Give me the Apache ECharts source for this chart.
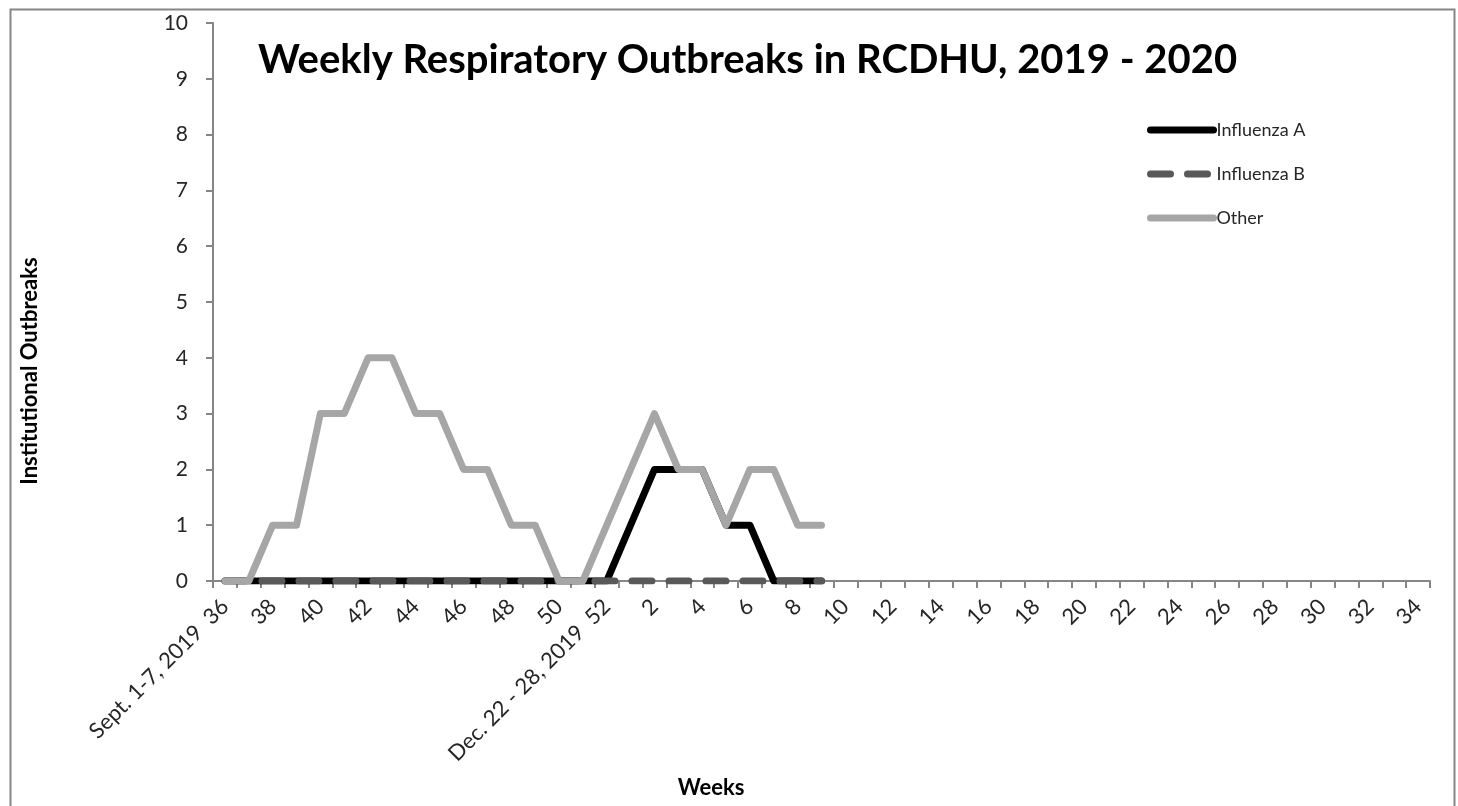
<!DOCTYPE html>
<html>
<head>
<meta charset="utf-8">
<title>Weekly Respiratory Outbreaks</title>
<script src="https://cdn.jsdelivr.net/npm/echarts@6/dist/echarts.min.js"></script>
<style>
  html, body { margin: 0; padding: 0; background: #fff; }
  #b { width: 1458px; height: 806px; }
</style>
</head>
<body>
<div id="b"></div>
<script>
// weeks of the season: 36..52 of 2019, then 1..34 of 2020
var weeks = ['Sept. 1-7, 2019  36','37','38','39','40','41','42','43','44','45','46','47','48','49','50','51','Dec. 22 - 28, 2019  52',
  '1','2','3','4','5','6','7','8','9','10','11','12','13','14','15','16','17','18','19','20',
  '21','22','23','24','25','26','27','28','29','30','31','32','33','34'];

// reported values run from week 36 to week 9
var influenzaA = [0,0,0,0,0,0,0,0,0,0,0,0,0,0,0,0,0, 1,2,2,2,1,1,0,0,0];
var influenzaB = [0,0,0,0,0,0,0,0,0,0,0,0,0,0,0,0,0, 0,0,0,0,0,0,0,0,0];
var other      = [0,0,1,1,3,3,4,4,3,3,2,2,1,1,0,0,1, 2,3,2,2,1,2,2,1,1];

var seriesNames = ['Influenza A','Influenza B','Other'];

function ace(){
  var font = 'Lato, "Open Sans", sans-serif';
  var myChart = echarts.init(document.getElementById('b'));
  myChart.clear();
  option = {
    animation: false,
    backgroundColor: '#fff',
    title: {
      text: 'Weekly Respiratory Outbreaks in RCDHU, 2019 - 2020',
      left: 253, top: 35,
      textStyle: { fontFamily: font, fontSize: 40, fontWeight: 'bold', color: '#000' }
    },
    legend: {
      data: seriesNames,
      orient: 'vertical',
      left: 1142, top: 116,
      itemWidth: 63, itemHeight: 16, itemGap: 26,
      itemStyle: { opacity: 0 },
      lineStyle: { width: 7, cap: 'round' },
      textStyle: { fontFamily: font, fontSize: 18, color: '#262626', padding: [0,0,0,-2] }
    },
    grid: { left: 213, right: 28, top: 23, bottom: 225 },
    xAxis: {
      type: 'category',
      data: weeks,
      boundaryGap: true,
      axisLine: { lineStyle: { color: '#868686', width: 2 } },
      axisTick: { show: true, interval: 0, length: 7, lineStyle: { color: '#868686', width: 2 } },
      axisLabel: { interval: 1, rotate: 45, margin: 22, fontFamily: font, fontSize: 22, color: '#262626' }
    },
    yAxis: {
      type: 'value',
      min: 0, max: 10, interval: 1,
      splitLine: { show: false },
      axisLine: { show: true, lineStyle: { color: '#868686', width: 2 } },
      axisTick: { show: true, length: 7, lineStyle: { color: '#868686', width: 2 } },
      axisLabel: { margin: 25, fontFamily: font, fontSize: 21, color: '#262626' }
    },
    series: [
      {
        name: 'Influenza A', type: 'line', data: influenzaA, symbol: 'none',
        color: '#000',
        lineStyle: { color: '#000', width: 7, cap: 'round', join: 'round' }
      },
      {
        name: 'Influenza B', type: 'line', data: influenzaB, symbol: 'none',
        color: '#595959',
        lineStyle: { color: '#595959', width: 7, type: [20, 17], cap: 'round', join: 'round' }
      },
      {
        name: 'Other', type: 'line', data: other, symbol: 'none',
        color: '#a6a6a6',
        lineStyle: { color: '#a6a6a6', width: 7, cap: 'round', join: 'round' }
      }
    ],
    graphic: [
      { type: 'rect', left: 8, top: 7, shape: { width: 1444, height: 820 },
        style: { fill: 'none', stroke: '#868686', lineWidth: 2 }, silent: true },
      { type: 'text', x: 30, y: 371, rotation: Math.PI / 2,
        style: { text: 'Institutional Outbreaks', fontFamily: font, fontSize: 22, fontWeight: 'bold',
                 fill: '#000', align: 'center', verticalAlign: 'middle' } },
      { type: 'text', x: 711, y: 788,
        style: { text: 'Weeks', fontFamily: font, fontSize: 22, fontWeight: 'bold',
                 fill: '#000', align: 'center', verticalAlign: 'middle' } }
    ]
  };
  option && myChart.setOption(option);
}
ace();
</script>
</body>
</html>
